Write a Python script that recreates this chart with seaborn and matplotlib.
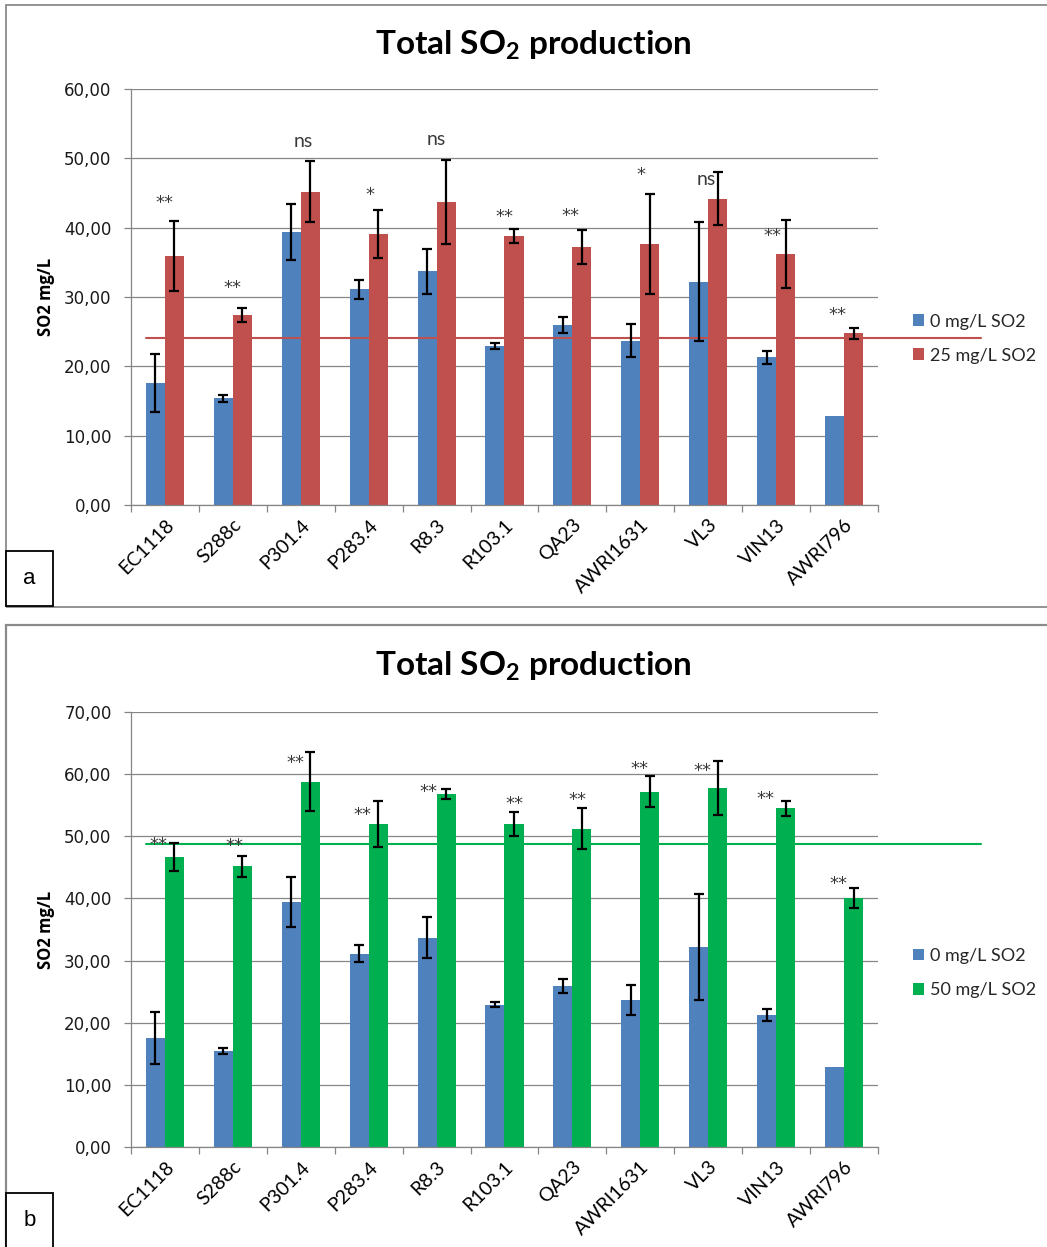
import matplotlib
matplotlib.use("Agg")
import matplotlib.pyplot as plt
from matplotlib.patches import Rectangle
from matplotlib.ticker import FixedLocator, FuncFormatter
import numpy as np
import pandas as pd
import seaborn as sns

# ---- data -------------------------------------------------------------
strains = ["EC1118", "S288c", "P301.4", "P283.4", "R8.3", "R103.1",
           "QA23", "AWRI1631", "VL3", "VIN13", "AWRI796"]

so2_0 = [17.6, 15.4, 39.4, 31.1, 33.7, 22.9, 25.9, 23.7, 32.2, 21.3, 12.8]
so2_0_err = [4.2, 0.5, 4.0, 1.4, 3.25, 0.45, 1.15, 2.4, 8.55, 0.95, 0.0]

so2_25 = [35.9, 27.4, 45.2, 39.1, 43.7, 38.8, 37.2, 37.7, 44.2, 36.2, 24.75]
so2_25_err = [5.0, 1.0, 4.45, 3.45, 6.0, 1.0, 2.5, 7.2, 3.8, 4.9, 0.85]

so2_50 = [46.7, 45.2, 58.8, 52.0, 56.8, 52.0, 51.2, 57.2, 57.7, 54.5, 40.1]
so2_50_err = [2.3, 1.7, 4.7, 3.65, 0.75, 1.9, 3.3, 2.45, 4.35, 1.2, 1.65]

ref_25 = 24.15   # reference level drawn across panel a
ref_50 = 48.8    # reference level drawn across panel b

sig_25 = ["**", "**", "ns", "*", "ns", "**", "**", "*", "ns", "**", "**"]
sig_50 = ["**"] * 11

# label placement (x offset from category centre, y in data units)
sig_25_dx = [0.0, 0.0, 0.03, 0.02, 0.0, 0.0, -0.03, 0.01, -0.03, -0.05, -0.09]
sig_25_y = [44.4, 32.1, 52.4, 45.5, 52.7, 42.4, 42.5, 48.5, 46.9, 39.7, 28.3]
sig_50_dx = [-0.09, 0.02, -0.085, -0.09, -0.126, 0.15, 0.08, -0.01, -0.09, -0.15, -0.08]
sig_50_y = [49.6, 49.4, 62.7, 54.4, 58.1, 56.2, 56.8, 61.8, 61.5, 56.9, 43.3]

BLUE = "#4F81BD"
RED = "#C0504D"
GREEN = "#00B050"
GRID = "#868686"

sns.set_theme(style="white")
plt.rcParams["font.family"] = ["DejaVu Sans"]

fig = plt.figure(figsize=(10.47, 12.47), dpi=100)
W, H = 1047.0, 1247.0


def px_axes(x0, y0, x1, y1):
    return fig.add_axes([x0 / W, 1 - y1 / H, (x1 - x0) / W, (y1 - y0) / H])


def panel(ax, treat_vals, treat_err, treat_label, color, ymax, ref, sig, sig_dx, sig_y):
    df = pd.DataFrame({
        "strain": strains * 2,
        "value": list(so2_0) + list(treat_vals),
        "treatment": ["0 mg/L SO2"] * len(strains) + [treat_label] * len(strains),
    })
    sns.barplot(data=df, x="strain", y="value", hue="treatment",
                palette=[BLUE, color], width=0.56, errorbar=None,
                saturation=1, linewidth=0, ax=ax, zorder=2)

    # error bars on top of each bar
    for cont, errs in zip(ax.containers, [so2_0_err, treat_err]):
        for bar, e in zip(cont, errs):
            if e <= 0:
                continue
            xc = bar.get_x() + bar.get_width() / 2
            ax.errorbar(xc, bar.get_height(), yerr=e, fmt="none",
                        ecolor="black", elinewidth=1.6, capsize=3.3,
                        capthick=1.6, zorder=4)

    ax.set_xlim(-0.5, len(strains) - 0.5)
    ax.set_ylim(0, ymax)
    ax.yaxis.set_major_locator(FixedLocator(np.arange(0, ymax + 1, 10)))
    ax.yaxis.set_major_formatter(FuncFormatter(lambda v, p: f"{v:.2f}".replace(".", ",")))
    ax.grid(axis="y", color=GRID, linewidth=0.9, zorder=0)
    ax.set_axisbelow(True)
    for s in ["top", "right"]:
        ax.spines[s].set_visible(False)
    for s in ["left", "bottom"]:
        ax.spines[s].set_color(GRID)
        ax.spines[s].set_linewidth(0.9)

    ax.tick_params(axis="y", which="major", left=True, length=5, width=0.9,
                   color=GRID, direction="out", pad=9, labelsize=12,
                   labelcolor="#1a1a1a")
    ax.set_xticks(range(len(strains)))
    ax.set_xticks(np.arange(-0.5, len(strains)), minor=True)
    ax.tick_params(axis="x", which="major", length=0, pad=8)
    ax.tick_params(axis="x", which="minor", bottom=True, length=5, width=0.9,
                   color=GRID, direction="out")
    ax.set_xticklabels(strains, rotation=45, ha="right", va="top",
                       rotation_mode="anchor", fontsize=14,
                       family="Lato", color="black")
    ax.set_xlabel("")
    ax.set_ylabel("")

    # horizontal reference line running past the plot into the legend area
    ax.plot([0.02, 1.138], [ref, ref], color=color, linewidth=1.5,
            transform=ax.get_yaxis_transform(), clip_on=False, zorder=3)

    # significance labels, anchored on the visual centre of the glyphs
    for i, (s, dx, y) in enumerate(zip(sig, sig_dx, sig_y)):
        if s == "ns":
            fs, fam, shift = 14, "Lato", -0.26 * 14
        else:
            fs, fam, shift = 13, "DejaVu Sans", -0.6 * 13
        ax.annotate(s, (i + dx, y), xytext=(0, shift), textcoords="offset points",
                    ha="center", va="baseline", fontsize=fs, family=fam,
                    color="#3a3a3a", zorder=5)

    sns.move_legend(ax, "center left", bbox_to_anchor=(1.047, 0.40),
                    frameon=False, title=None, handlelength=0.62,
                    handleheight=0.62, handletextpad=0.32, labelspacing=1.0,
                    borderpad=0, borderaxespad=0,
                    prop={"family": "Lato", "size": 13})


ax_a = px_axes(131, 89, 878, 505)
panel(ax_a, so2_25, so2_25_err, "25 mg/L SO2", RED, 60, ref_25,
      sig_25, sig_25_dx, sig_25_y)

ax_b = px_axes(131, 712, 878, 1147)
panel(ax_b, so2_50, so2_50_err, "50 mg/L SO2", GREEN, 70, ref_50,
      sig_50, sig_50_dx, sig_50_y)

# titles and axis labels
for yc in (45, 666):
    fig.text(533 / W, 1 - yc / H, r"Total SO$_{\mathregular{2}}$ production",
             ha="center", va="center", fontsize=24, fontweight="bold",
             family="Lato", color="black")
for yc in (297, 929.5):
    fig.text(46 / W, 1 - yc / H, "SO2 mg/L", rotation=90, ha="center",
             va="center", fontsize=12, fontweight="bold",
             family="Open Sans", color="black")

# panel frames
fig.patches.append(Rectangle((6 / W, 1 - 607 / H), 1.2, 602 / H,
                             transform=fig.transFigure, fill=False,
                             edgecolor="#8a8a8a", linewidth=1.3))
fig.patches.append(Rectangle((6 / W, -0.2), 1.2, (1247 - 625) / H + 0.2,
                             transform=fig.transFigure, fill=False,
                             edgecolor="#8a8a8a", linewidth=1.6))

# panel letters
for letter, y0, y1 in (("a", 551, 606), ("b", 1193, 1249)):
    fig.patches.append(Rectangle((6 / W, 1 - y1 / H), 47 / W, (y1 - y0) / H,
                                 transform=fig.transFigure, fill=True,
                                 facecolor="white", edgecolor="black",
                                 linewidth=1.3, zorder=5))
    fig.text(29.5 / W, 1 - ((y0 + min(y1, 1247)) / 2) / H, letter,
             ha="center", va="center", fontsize=16,
             family="Liberation Sans", color="black", zorder=6)

fig.savefig("out.png", dpi=100, facecolor="white")
